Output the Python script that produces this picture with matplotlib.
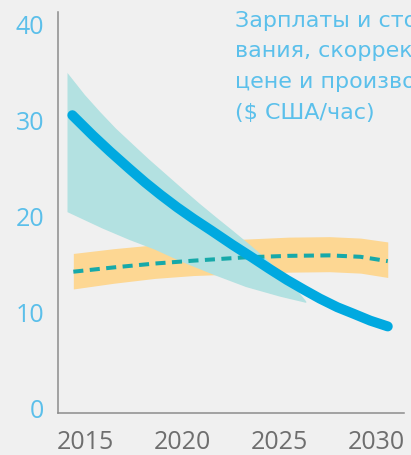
import matplotlib.pyplot as plt

# Central estimate (blue line)
years_line = [2014.35, 2015.4, 2016.3, 2017.3, 2018.1, 2018.9, 2019.75, 2020.6, 2021.5,
              2022.6, 2023.6, 2024.5, 2025.4, 2026.3, 2027.1, 2028.0, 2028.8, 2029.7, 2030.6]
cost_line = [30.5, 28.4, 26.7, 24.9, 23.5, 22.2, 20.9, 19.7, 18.5,
             17.0, 15.7, 14.5, 13.35, 12.3, 11.4, 10.5, 9.85, 9.1, 8.5]

# Uncertainty range around the central estimate (teal area)
years_high = [2014.1, 2015.0, 2015.8, 2016.6, 2017.5, 2018.3, 2019.2, 2020.1, 2020.9,
              2021.8, 2022.6, 2023.5, 2024.3, 2025.1, 2025.8, 2026.4]
range_high = [34.9, 32.6, 30.8, 29.1, 27.4, 25.9, 24.3, 22.7, 21.3,
              19.8, 18.5, 17.0, 15.6, 14.1, 12.6, 11.1]
years_low = [2014.1, 2015.9, 2017.3, 2018.6, 2019.9, 2021.6, 2023.3, 2025.05, 2026.4]
range_low = [20.4, 18.7, 17.5, 16.5, 15.3, 13.9, 12.6, 11.6, 10.95]

# Comparison band (orange) and its midline (dashed)
years_band = [2014.4, 2016.5, 2018.6, 2020.6, 2023.3, 2025.5, 2027.6, 2029.2, 2030.6]
band_high = [16.1, 16.6, 17.0, 17.35, 17.6, 17.8, 17.85, 17.7, 17.3]
band_low = [12.4, 13.0, 13.5, 13.8, 14.0, 14.15, 14.2, 14.05, 13.6]
band_mid = [14.2, 14.65, 15.05, 15.35, 15.7, 15.85, 15.9, 15.75, 15.3]

xticks = [2015, 2020, 2025, 2030]
yticks = [0, 10, 20, 30, 40]

# only the part of the caption that fits inside the picture
title = ("Зарплаты и сто\n"
         "вания, скоррек\n"
         "цене и произво\n"
         "($ США/час)")

plt.rcParams['font.family'] = ['Open Sans', 'DejaVu Sans']

fig = plt.figure(figsize=(4.11, 4.55), dpi=100, facecolor="#f0f0f0")
ax = fig.add_axes([0.1411, 0.0923, 0.842, 0.8813])
ax.set_facecolor("#f0f0f0")

# teal area as one closed polygon: upper edge forward, lower edge back
poly_x = years_high + years_low[::-1]
poly_y = range_high + range_low[::-1]

ax.fill_between(years_band, band_low, band_high, color="#fdd793", lw=0, zorder=1)
ax.fill(poly_x, poly_y, color="#b3e1e1", lw=0, zorder=2)
ax.plot(years_band, band_mid, color="#17a9a9", lw=2.9, dashes=(2.5, 1.6), zorder=3)
ax.plot(years_line, cost_line, color="#00a9e0", lw=7.2, solid_capstyle="round",
        solid_joinstyle="round", zorder=4)

ax.set_xlim(2013.61, 2031.44)
ax.set_ylim(-0.52, 41.25)
ax.set_xticks(xticks)
ax.set_yticks(yticks)
ax.tick_params(axis="y", length=0, pad=10, labelsize=18, labelcolor="#5bbfea")
ax.tick_params(axis="x", length=0, pad=12, labelsize=18, labelcolor="#6e6e6e")

for side in ["top", "right"]:
    ax.spines[side].set_visible(False)
for side in ["left", "bottom"]:
    ax.spines[side].set_color("#8c8c8c")
    ax.spines[side].set_linewidth(1.1)

fig.text(0.572, 0.976, title, color="#5bc0eb", fontsize=16, va="top", ha="left",
         linespacing=1.66, family="DejaVu Sans")

fig.savefig("out.png", dpi=100, facecolor=fig.get_facecolor())
